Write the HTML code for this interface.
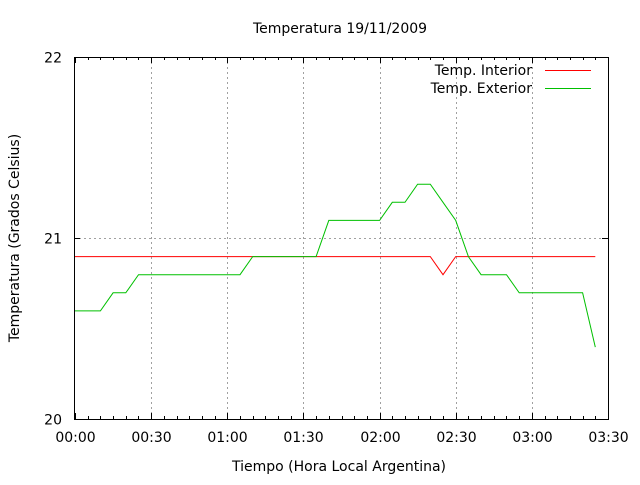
<!DOCTYPE html>
<html><head><meta charset="utf-8"><style>
body{margin:0;background:#fff}
svg text{font-family:"DejaVu Sans","Liberation Sans",sans-serif;font-size:14px;fill:#000}
</style></head><body>
<svg id="chart" width="640" height="480" xmlns="http://www.w3.org/2000/svg">
<text x="340" y="33" text-anchor="middle">Temperatura 19/11/2009</text>
<text x="339" y="471" text-anchor="middle">Tiempo (Hora Local Argentina)</text>
<text transform="translate(19,238) rotate(-90)" text-anchor="middle">Temperatura (Grados Celsius)</text>
<g id="grid"></g><g id="axes"></g><g id="series"></g>
<g>
<text x="532" y="75" text-anchor="end">Temp. Interior</text>
<line x1="545" y1="70.5" x2="591" y2="70.5" stroke="#ff0000"/>
<text x="532" y="93" text-anchor="end">Temp. Exterior</text>
<line x1="545" y1="88.5" x2="591" y2="88.5" stroke="#00c000"/>
</g>
</svg>
<script>
const times = [0,5,10,15,20,25,30,35,40,45,50,55,60,65,70,75,80,85,90,95,100,105,110,115,120,125,130,135,140,145,150,155,160,165,170,175,180,185,190,195,200,205];
const interior = [20.9,20.9,20.9,20.9,20.9,20.9,20.9,20.9,20.9,20.9,20.9,20.9,20.9,20.9,20.9,20.9,20.9,20.9,20.9,20.9,20.9,20.9,20.9,20.9,20.9,20.9,20.9,20.9,20.9,20.8,20.9,20.9,20.9,20.9,20.9,20.9,20.9,20.9,20.9,20.9,20.9,20.9];
const exterior = [20.6,20.6,20.6,20.7,20.7,20.8,20.8,20.8,20.8,20.8,20.8,20.8,20.8,20.8,20.9,20.9,20.9,20.9,20.9,20.9,21.1,21.1,21.1,21.1,21.1,21.2,21.2,21.3,21.3,21.2,21.1,20.9,20.8,20.8,20.8,20.7,20.7,20.7,20.7,20.7,20.7,20.4];
const xTicks = [0,30,60,90,120,150,180,210];
const xTickLabels = ["00:00","00:30","01:00","01:30","02:00","02:30","03:00","03:30"];
const yTicks = [20,21,22];
const yTickLabels = ["20","21","22"];
const X0=74,X1=608,Y0=419,Y1=57;
const x = m => X0 + 1 + (m-0)/(210)*(X1-X0-1);
const y = v => Y0 - (v-20)/2*(Y0-Y1);
const NS="http://www.w3.org/2000/svg";
function mk(tag, attrs, parent){const e=document.createElementNS(NS,tag);for(const k in attrs)e.setAttribute(k,attrs[k]);parent.appendChild(e);return e;}
const grid=document.getElementById('grid'), axes=document.getElementById('axes'), series=document.getElementById('series');
xTicks.forEach((t,i)=>{
  const px=Math.round(x(t))+0.5;
  if(i>0&&i<xTicks.length-1){const g=mk('line',{x1:px,y1:Y1,x2:px,y2:Y0,stroke:'#a0a0a0','stroke-dasharray':'2,3'},grid);
  
  }
  const tk=mk('path',{d:`M${px},${Y0}v-6M${px},${Y1}v6`,stroke:'#000'},axes);
  
  
  const lb=mk('text',{x:px,y:442,'text-anchor':'middle'},axes);lb.textContent=xTickLabels[i];
  
  
});
for(let m=5;m<210;m+=5){if(m%30===0)continue;const px=Math.round(x(m))+0.5;
  const mt=mk('path',{d:`M${px},${Y0}v-3M${px},${Y1}v3`,stroke:'#000'},axes);
  
  }
yTicks.forEach((t,i)=>{
  const py=Math.round(y(t))+0.5;
  if(i>0&&i<yTicks.length-1){const g=mk('line',{x1:X0,y1:py,x2:X1,y2:py,stroke:'#a0a0a0','stroke-dasharray':'2,3'},grid);
  
  }
  const tk=mk('path',{d:`M${X0},${py}h6M${X1},${py}h-6`,stroke:'#000'},axes);
  
  
  const lb=mk('text',{x:62,y:py+5,'text-anchor':'end'},axes);lb.textContent=yTickLabels[i];
  
  
});
const fr=mk('rect',{x:X0+0.5,y:Y1+0.5,width:X1-X0,height:Y0-Y1,fill:'none',stroke:'#000'},axes);


function line(vals,color,name){
  const p=mk('polyline',{points:vals.map((v,i)=>x(times[i]).toFixed(1)+','+(y(v)+0.5).toFixed(1)).join(' '),fill:'none',stroke:color,'stroke-width':1},series);
  
  
}
line(interior,'#ff0000','interior-line');
line(exterior,'#00c000','exterior-line');
</script>
</body></html>
